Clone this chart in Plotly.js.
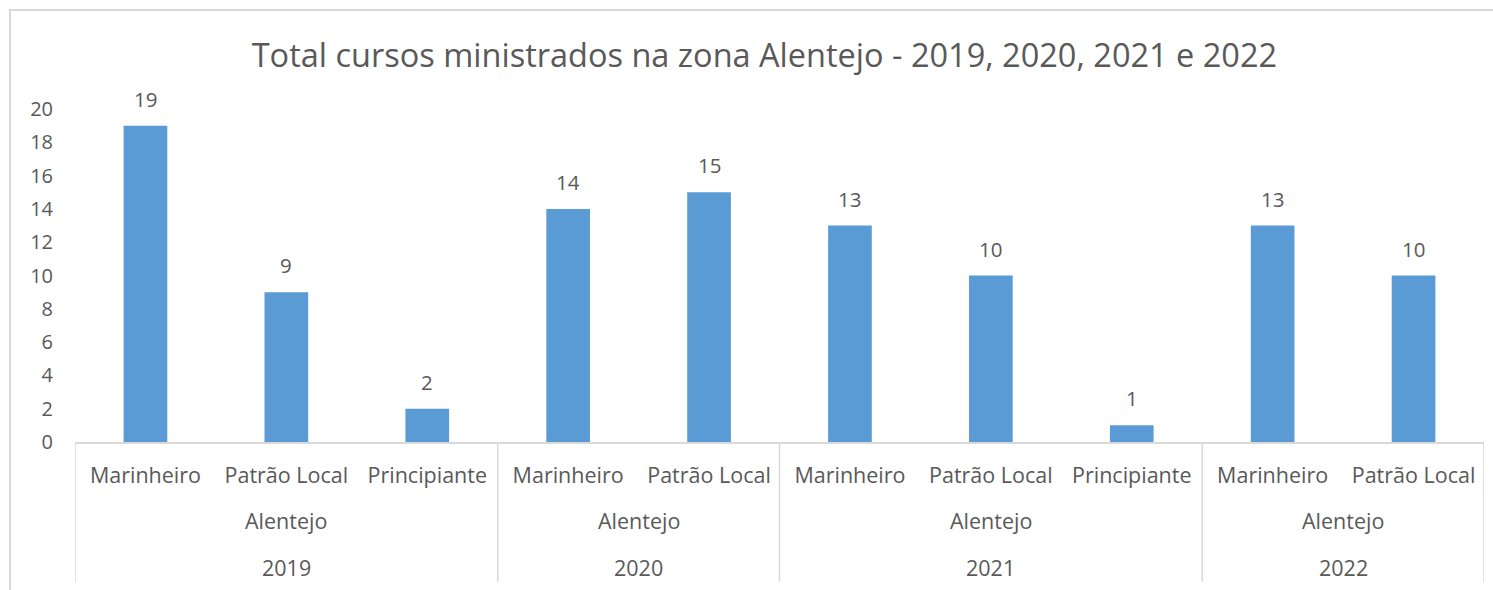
<!DOCTYPE html>
<html>
<head>
<meta charset="utf-8">
<script src="https://cdn.plot.ly/plotly-3.0.1.min.js"></script>
<style>html,body{margin:0;padding:0;background:#fff}#chart{width:1493px;height:590px}</style>
</head>
<body>
<div id="chart"></div>
<script>
// Data
const courses = ["Marinheiro","Patrão Local","Principiante","Marinheiro","Patrão Local","Marinheiro","Patrão Local","Principiante","Marinheiro","Patrão Local"];
const zones = ["Alentejo","Alentejo","Alentejo","Alentejo","Alentejo","Alentejo","Alentejo","Alentejo","Alentejo","Alentejo"];
const years = ["2019","2019","2019","2020","2020","2021","2021","2021","2022","2022"];
const values = [19, 9, 2, 14, 15, 13, 10, 1, 13, 10];
const yTicks = [0,2,4,6,8,10,12,14,16,18,20];

const idx = values.map((_, i) => i);
const textColor = "#595959";
const font = "Open Sans, Noto Sans, sans-serif";
const lineColor = "#d9d9d9";

// group years (contiguous)
const groups = [];
years.forEach((y, i) => {
  if (groups.length && groups[groups.length-1].year === y) groups[groups.length-1].end = i;
  else groups.push({year: y, zone: zones[i], start: i, end: i});
});

const annotations = [];
values.forEach((v, i) => {
  annotations.push({x: i, y: v, xref: "x", yref: "y", text: String(v), showarrow: false,
    yanchor: "bottom", yshift: 11, font: {family: font, size: 20.5, color: textColor}});
});
const shapes = [];
groups.forEach(g => {
  const c = (g.start + g.end) / 2;
  annotations.push({x: c, y: -0.237, xref: "x", yref: "paper", text: g.zone, showarrow: false,
    yanchor: "middle", font: {family: font, size: 21.5, color: textColor}});
  annotations.push({x: c, y: -0.378, xref: "x", yref: "paper", text: g.year, showarrow: false,
    yanchor: "middle", font: {family: font, size: 21.5, color: textColor}});
  shapes.push({type: "line", xref: "x", yref: "paper", x0: g.start - 0.5, x1: g.start - 0.5, y0: 0, y1: -0.42,
    line: {color: lineColor, width: 1.5}});
});
shapes.push({type: "line", xref: "x", yref: "paper", x0: values.length - 0.5, x1: values.length - 0.5, y0: 0, y1: -0.42,
  line: {color: lineColor, width: 1.5}});
// chart border
shapes.push({type: "rect", xref: "paper", yref: "paper", x0: -0.0461, x1: 1.1, y0: -0.6, y1: 1.297,
  line: {color: lineColor, width: 2}, fillcolor: "rgba(0,0,0,0)", layer: "below"});

const trace = {
  type: "bar", x: idx, y: values, marker: {color: "#5b9bd5"},
  hoverinfo: "skip"
};

const layout = {
  width: 1493, height: 590,
  margin: {l: 75, r: 9, t: 109, b: 148},
  paper_bgcolor: "#fff", plot_bgcolor: "#fff",
  bargap: 0.69,
  showlegend: false,
  title: {text: "Total cursos ministrados na zona Alentejo - 2019, 2020, 2021 e 2022",
    font: {family: font, size: 32.5, color: textColor}, x: 0.512, xanchor: "center", y: 0.905, yanchor: "middle"},
  xaxis: {
    range: [-0.5, values.length - 0.5], tickvals: idx, ticktext: courses,
    showgrid: false, zeroline: false, showline: true, linecolor: lineColor, linewidth: 1.5,
    ticks: "", ticklabelstandoff: 14, tickangle: 0,
    tickfont: {family: font, size: 21.5, color: textColor}, fixedrange: true
  },
  yaxis: {
    range: [0, 20], tickvals: yTicks, showgrid: false, zeroline: false, showline: false,
    ticks: "", ticklabelstandoff: 21,
    tickfont: {family: font, size: 20, color: textColor}, fixedrange: true
  },
  annotations: annotations,
  shapes: shapes
};

Plotly.newPlot("chart", [trace], layout, {displayModeBar: false, staticPlot: true});
</script>
</body>
</html>
